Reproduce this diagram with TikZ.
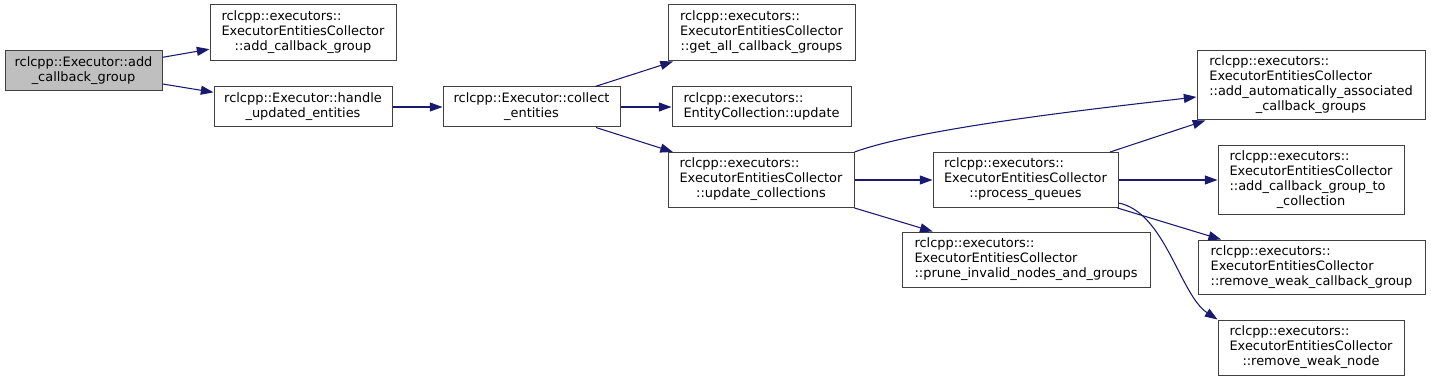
\documentclass[tikz,border=0pt]{standalone}
\usepackage{fontspec}
\setmainfont{DejaVu Sans}
\usetikzlibrary{arrows.meta,calc}

\definecolor{edgeblue}{HTML}{191970}
\definecolor{boxgray}{HTML}{BFBFBF}
\definecolor{boxline}{HTML}{404040}

% member name: left lines, last line centred
\newcommand{\fn}[2]{\begin{tabular}{@{}l@{}}#1\\\multicolumn{1}{@{}c@{}}{#2}\end{tabular}}

\begin{document}
\begin{tikzpicture}[x=0.75pt, y=-0.75pt,
  fnbox/.style={draw=boxline, line width=0.75pt, fill=white, inner sep=0pt,
    font=\fontsize{9.7}{11.25}\selectfont},
  sz/.style 2 args={minimum width={#1*0.75pt}, minimum height={#2*0.75pt}},
  call/.style={draw=edgeblue, line width=0.8pt, -{Triangle[length=9.5pt,width=6.75pt]}}]
  % units are pixels of the 1431x381 graph, y downwards
  \useasboundingbox (0,0) rectangle (1431,381);

  % column 1: caller
  \node[fnbox, fill=boxgray, sz={157}{40}] (addcb) at (83.5,71)
    {\fn{rclcpp::Executor::add}{\_callback\_group}};
  % column 2
  \node[fnbox, sz={186}{56}] (colladdcb) at (303,33)
    {\fn{rclcpp::executors::\\ExecutorEntitiesCollector}{::add\_callback\_group}};
  \node[fnbox, sz={178}{40}] (handle) at (303,107)
    {\fn{rclcpp::Executor::handle}{\_updated\_entities}};
  % column 3
  \node[fnbox, sz={177}{40}] (collect) at (531.5,107)
    {\fn{rclcpp::Executor::collect}{\_entities}};
  % column 4
  \node[fnbox, sz={187}{56}] (getall) at (761.5,33)
    {\fn{rclcpp::executors::\\ExecutorEntitiesCollector}{::get\_all\_callback\_groups}};
  \node[fnbox, sz={179}{40}] (ecupdate) at (761.5,107)
    {\fn{rclcpp::executors::}{EntityCollection::update}};
  \node[fnbox, sz={186}{55}] (updcoll) at (761,180)
    {\fn{rclcpp::executors::\\ExecutorEntitiesCollector}{::update\_collections}};
  % column 5
  \node[fnbox, sz={185}{55}] (procq) at (1025.5,180)
    {\fn{rclcpp::executors::\\ExecutorEntitiesCollector}{::process\_queues}};
  \node[fnbox, sz={248}{55}] (prune) at (1026,259.5)
    {\fn{rclcpp::executors::\\ExecutorEntitiesCollector}{::prune\_invalid\_nodes\_and\_groups}};
  % column 6
  \node[fnbox, sz={228}{69}] (autoassoc) at (1311,85.5)
    {\fn{rclcpp::executors::\\ExecutorEntitiesCollector\\::add\_automatically\_associated}{\_callback\_groups}};
  \node[fnbox, sz={186}{69}] (addtocoll) at (1311,180)
    {\fn{rclcpp::executors::\\ExecutorEntitiesCollector\\::add\_callback\_group\_to}{\_collection}};
  \node[fnbox, sz={227}{54}] (rmweakcb) at (1311.5,267)
    {\fn{rclcpp::executors::\\ExecutorEntitiesCollector}{::remove\_weak\_callback\_group}};
  \node[fnbox, sz={186}{55}] (rmweaknode) at (1311,347.5)
    {\fn{rclcpp::executors::\\ExecutorEntitiesCollector}{::remove\_weak\_node}};

  % calls
  \draw[call] (addcb) -- (colladdcb);
  \draw[call] (addcb) -- (handle);
  \draw[call] (handle) -- (collect);
  \draw[call] (collect) -- (getall);
  \draw[call] (collect) -- (ecupdate);
  \draw[call] (collect) -- (updcoll);
  \draw[call] (updcoll.north east) .. controls (920,128) and (1100,108) .. ($(autoassoc.west)+(0,11.5)$);
  \draw[call] (updcoll) -- (procq);
  \draw[call] (updcoll) -- (prune);
  \draw[call] (procq) -- (autoassoc);
  \draw[call] (procq) -- (addtocoll);
  \draw[call] (procq) -- (rmweakcb);
  \draw[call] ($(procq.south east)+(0,-5)$) .. controls (1165,212) and (1180,295) .. (rmweaknode.north west);
\end{tikzpicture}
\end{document}
